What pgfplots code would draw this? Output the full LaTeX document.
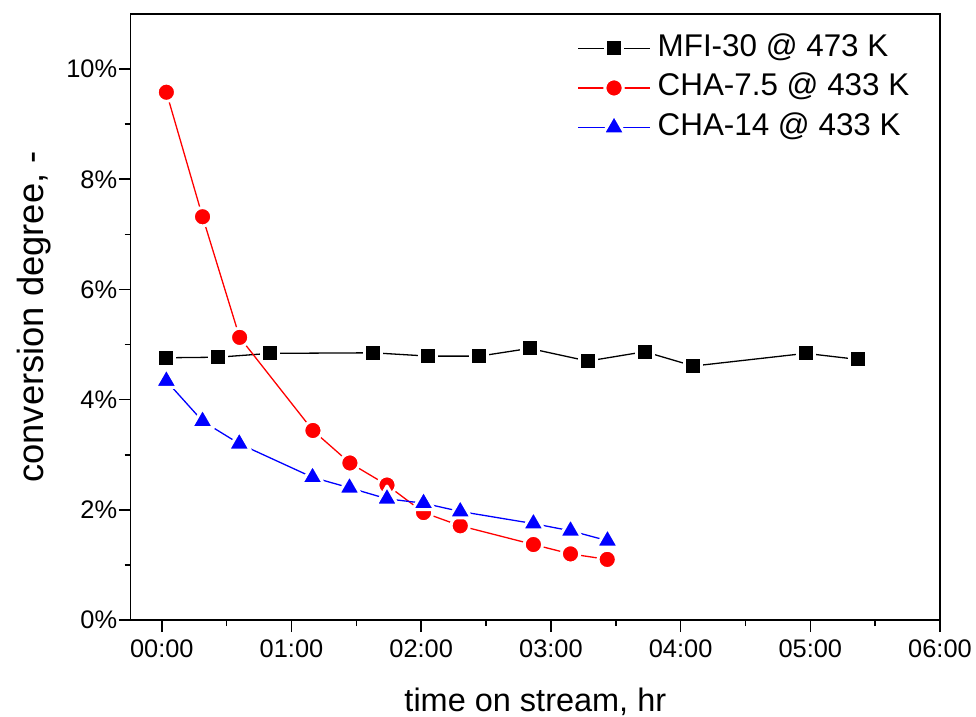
\documentclass[border=0pt]{standalone}
\usepackage{pgfplots}
\pgfplotsset{compat=1.18}
\usepackage{fontspec}
\setmainfont{Liberation Sans}

\begin{document}
\begin{tikzpicture}
\begin{axis}[
    scale only axis,
    width=809.3bp, height=606bp,
    xmin=-0.24, xmax=6, ymin=0, ymax=11,
    axis line style={line width=1.6bp},
    xtick={0,1,2,3,4,5,6},
    xticklabels={00:00,01:00,02:00,03:00,04:00,05:00,06:00},
    minor xtick={0.5,1.5,2.5,3.5,4.5,5.5},
    ytick={0,2,4,6,8,10},
    yticklabels={0\%,2\%,4\%,6\%,8\%,10\%},
    minor ytick={1,3,5,7,9},
    tick align=outside,
    xtick pos=bottom, ytick pos=left,
    major tick length=12bp, minor tick length=6bp,
    tick style={line width=1.6bp, black},
    /pgf/number format/assume math mode=true,
    ticklabel style={font=\fontsize{25.5}{30}\selectfont},
    xticklabel style={yshift=-4.5bp},
    yticklabel style={xshift=2bp},
    xlabel={time on stream, hr},
    ylabel={conversion degree, -},
    xlabel style={font=\fontsize{32.6}{38}\selectfont, at={(axis description cs:0.5,0)}, anchor=base, yshift=-91.7bp},
    ylabel style={font=\fontsize{36.5}{42}\selectfont, at={(axis description cs:-0.108,0.5)}, anchor=base},
    legend style={draw=none, fill=none, font=\fontsize{31.5}{37}\selectfont,
        at={(axis description cs:0.548,0.9715)}, anchor=north west,
        row sep=9.5bp,
        nodes={inner sep=0bp, text height=23bp, text depth=7bp},
        /tikz/every odd column/.style={column sep=7bp}},
    legend cell align=left,
    legend image code/.code={\draw[mark repeat=2,mark phase=2,#1] plot coordinates {(0bp,0bp) (36bp,0bp) (72bp,0bp)};},
]
\addplot[black, line width=1.3bp, mark=square*,
    mark options={draw=white, fill=black, line width=3bp, line join=round, mark size=8.5bp}]
coordinates {
    (0.035,4.76) (0.433,4.77) (0.834,4.84) (1.632,4.85) (2.054,4.79) (2.449,4.79)
    (2.835,4.93) (3.285,4.70) (3.723,4.87) (4.099,4.61) (4.965,4.84) (5.366,4.73)
};
\addlegendentry{MFI-30 @ 473 K}
\addplot[red, line width=1.3bp, mark=*,
    mark options={draw=white, fill=red, line width=3bp, mark size=9.2bp}]
coordinates {
    (0.035,9.58) (0.314,7.32) (0.600,5.13) (1.165,3.44) (1.450,2.85) (1.736,2.45)
    (2.018,1.95) (2.301,1.71) (2.865,1.37) (3.151,1.20) (3.434,1.10)
};
\addlegendentry{CHA-7.5 @ 433 K}
\addplot[blue, line width=1.3bp, mark=triangle*,
    mark options={draw=white, fill=blue, line width=3bp, line join=round, mark size=12.8bp}]
coordinates {
    (0.035,4.34) (0.314,3.61) (0.597,3.20) (1.162,2.59) (1.447,2.40) (1.736,2.20)
    (2.018,2.12) (2.301,1.97) (2.865,1.75) (3.151,1.62) (3.436,1.44)
};
\addlegendentry{CHA-14 @ 433 K}
\end{axis}
\pgfresetboundingbox
\path (-130.7bp,-97bp) rectangle (845.3bp,620bp);
\end{tikzpicture}
\end{document}
